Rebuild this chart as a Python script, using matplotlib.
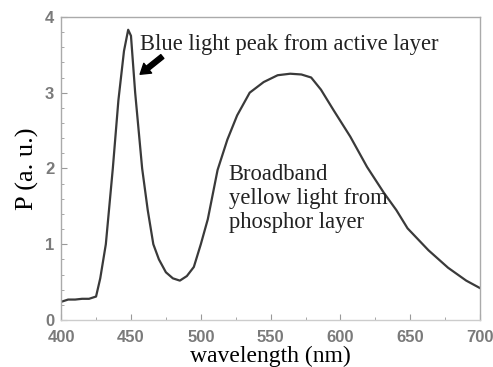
import numpy as np
import matplotlib.pyplot as plt
from matplotlib.ticker import MultipleLocator

# spectrum
wavelength = [400, 405, 410, 415, 420, 425, 428, 432, 437, 441, 445, 448, 450,
              453, 458, 462, 466, 470, 475, 480, 485, 490, 495, 500, 505, 512,
              519, 526, 535, 545, 555, 564, 572, 579, 586, 595, 607, 619, 631,
              640, 648, 663, 677, 690, 700]
power = [0.24, 0.27, 0.27, 0.28, 0.28, 0.31, 0.55, 1.0, 2.0, 2.9, 3.55, 3.83, 3.75,
         3.0, 2.0, 1.45, 1.0, 0.8, 0.63, 0.55, 0.52, 0.58, 0.70, 1.0, 1.33, 1.98,
         2.38, 2.7, 3.0, 3.14, 3.23, 3.25, 3.24, 3.2, 3.04, 2.77, 2.42, 2.02, 1.68,
         1.45, 1.21, 0.92, 0.69, 0.52, 0.42]

fig = plt.figure(figsize=(4.93, 3.67), dpi=100)
ax = fig.add_axes([0.124, 0.128, 0.850, 0.826])

ax.plot(wavelength, power, color='#3a3a3a', lw=1.6)
ax.set_xlim(400, 700)
ax.set_ylim(0, 4)
ax.xaxis.set_major_locator(MultipleLocator(50))
ax.xaxis.set_minor_locator(MultipleLocator(25))
ax.yaxis.set_major_locator(MultipleLocator(1))
ax.yaxis.set_minor_locator(MultipleLocator(0.2))
ax.tick_params(which='both', direction='in', color='#999999', top=False, right=False)
ax.tick_params(which='major', length=4)
ax.tick_params(axis='x', which='major', pad=7.5)
ax.tick_params(axis='y', which='major', pad=5)
ax.tick_params(which='minor', length=2)
for lab in ax.get_xticklabels() + ax.get_yticklabels():
    lab.set_family('Liberation Sans')
    lab.set_fontweight('bold')
    lab.set_color('#7a7a7a')
    lab.set_fontsize(12)
for s in ax.spines.values():
    s.set_color('#aaaaaa')
    s.set_linewidth(1.0)
ax.spines['bottom'].set_color('#cccccc')

serif = 'Liberation Serif'
ax.set_xlabel('wavelength (nm)', family=serif, fontsize=17, labelpad=0)
ax.set_ylabel('P (a. u.)', family=serif, fontsize=19, labelpad=4)

ax.text(456.5, 3.63, 'Blue light peak from active layer', family=serif,
        fontsize=16.3, color='#222222', va='center')
ax.text(520, 1.6, 'Broadband\nyellow light from\nphosphor layer', family=serif,
        fontsize=16.3, color='#222222', va='center', linespacing=1.2)
ax.annotate('', xy=(455, 3.22), xytext=(474, 3.5),
            arrowprops=dict(arrowstyle='simple,head_width=0.9,head_length=0.7,tail_width=0.35',
                            color='black'))

fig.savefig('out.png', dpi=100)
